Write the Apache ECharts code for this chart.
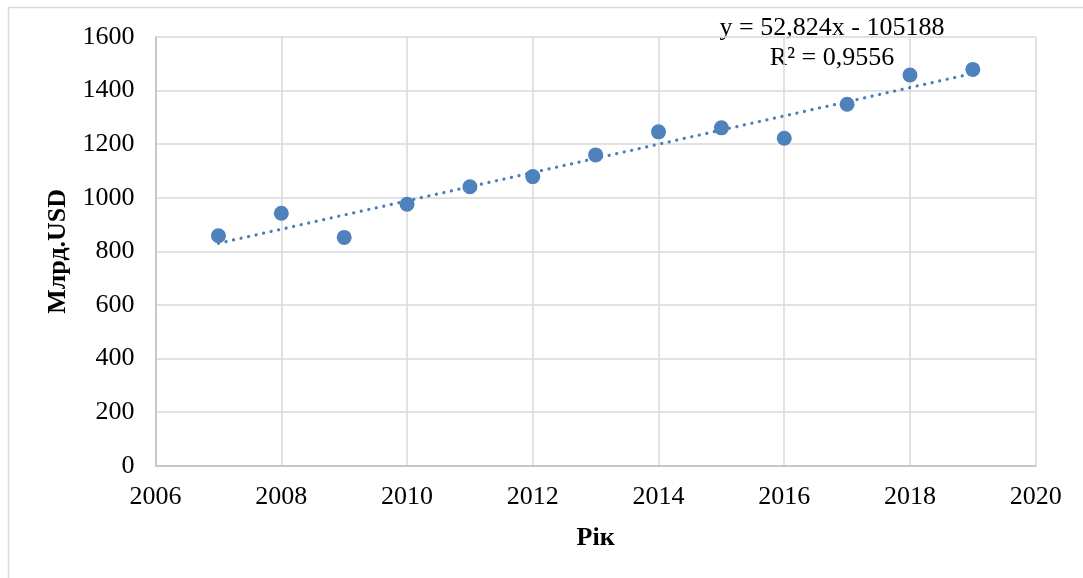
<!DOCTYPE html>
<html>
<head>
<meta charset="utf-8">
<script src="https://cdn.jsdelivr.net/npm/echarts@6/dist/echarts.min.js"></script>
<style>html,body{margin:0;padding:0;background:#fff}#c{width:1083px;height:578px}</style>
</head>
<body>
<div id="c"></div>
<script>
var years = [2007, 2008, 2009, 2010, 2011, 2012, 2013, 2014, 2015, 2016, 2017, 2018, 2019];
var values = [858, 942, 852, 976, 1041, 1079, 1160, 1246, 1261, 1222, 1349, 1458, 1479];
var trendYears = [2007, 2019];
var trendValues = [830, 1464];
var equationLines = ['y = 52,824x - 105188', 'R² = 0,9556'];
var xTitle = 'Рік';
var yTitle = 'Млрд.USD';

var font = '"Liberation Serif", "Times New Roman", serif';
var plain = function (v) { return String(v); };
var chart = echarts.init(document.getElementById('c'), null, {renderer: 'canvas'});
chart.setOption({
  animation: false,
  backgroundColor: '#fff',
  grid: {left: 155.6, right: 47.3, top: 37, bottom: 112.3, containLabel: false},
  xAxis: {
    type: 'value', min: 2006, max: 2020, interval: 2,
    name: xTitle, nameLocation: 'middle', nameGap: 60,
    nameTextStyle: {fontFamily: font, fontSize: 26, fontWeight: 'bold', color: '#000'},
    axisLine: {show: true, lineStyle: {color: '#bfbfbf', width: 1.5}},
    axisTick: {show: false},
    axisLabel: {fontFamily: font, fontSize: 26, color: '#000', margin: 18, formatter: plain},
    splitLine: {show: true, lineStyle: {color: '#d9d9d9', width: 1.5}}
  },
  yAxis: {
    type: 'value', min: 0, max: 1600, interval: 200,
    name: yTitle, nameLocation: 'middle', nameGap: 84,
    nameTextStyle: {fontFamily: font, fontSize: 26, fontWeight: 'bold', color: '#000'},
    axisLine: {show: true, lineStyle: {color: '#bfbfbf', width: 1.5}},
    axisTick: {show: false},
    axisLabel: {fontFamily: font, fontSize: 26, color: '#000', margin: 21, formatter: plain},
    splitLine: {show: true, lineStyle: {color: '#d9d9d9', width: 1.5}}
  },
  graphic: [
    {type: 'polyline', silent: true, shape: {points: [[8.5, 578], [8.5, 7.5], [1083, 7.5]]},
     style: {stroke: '#d9d9d9', lineWidth: 1.5, fill: null}},
    {type: 'text', silent: true, x: 832, y: 28,
     style: {text: equationLines[0], align: 'center', verticalAlign: 'middle',
       font: '26px ' + font, fill: '#000'}},
    {type: 'text', silent: true, x: 832, y: 58,
     style: {text: equationLines[1], align: 'center', verticalAlign: 'middle',
       font: '26px ' + font, fill: '#000'}}
  ],
  series: [
    {
      type: 'line', z: 2,
      data: trendYears.map(function (x, i) { return [x, trendValues[i]]; }),
      showSymbol: false, symbol: 'none',
      lineStyle: {color: '#4a7ebb', width: 3.2, type: [0.1, 7.6], cap: 'round'}
    },
    {
      type: 'scatter', z: 3,
      data: years.map(function (x, i) { return [x, values[i]]; }),
      symbol: 'circle', symbolSize: 15,
      itemStyle: {color: '#4f81bd', opacity: 1}
    }
  ]
});
</script>
</body>
</html>
